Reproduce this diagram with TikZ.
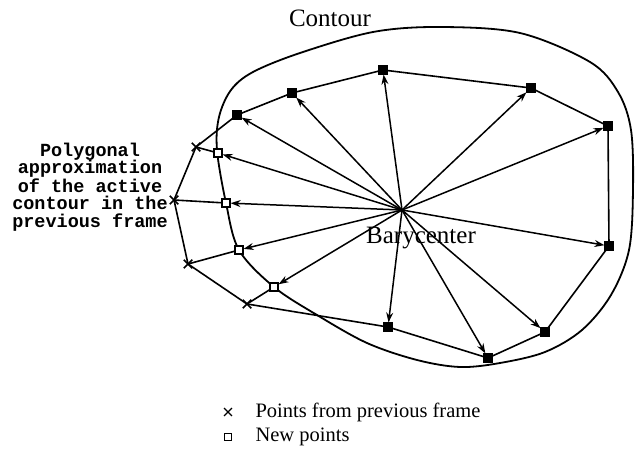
\documentclass[tikz,border=0pt]{standalone}
\usepackage{fontspec}
\setmainfont{Liberation Serif}
\setmonofont{Liberation Mono}
\usepackage{tikz}
\usetikzlibrary{shapes.misc, arrows.meta, positioning}
\tikzset{
    % Point markers
    new point/.style={
        rectangle,
        draw=black,
        fill=white,
        line width=1.6pt,
        minimum size=7.5pt,
        inner sep=0pt
    },
    same point/.style={
        new point,
        fill=black
    },
    old point/.style={
        cross out,
        draw=black,
        line width=1.5pt,
        minimum size=7pt,
        inner sep=0pt
    },
    arrow style/.style={
        -{Stealth[length=10pt,width=7pt]},
        line width=1.5pt,
        black
    },
    edge style/.style={
        line width=1.6pt,
        black
    },
    label text/.style={
        font=\fontsize{25}{28}\selectfont
    },
    legend text/.style={
        anchor=west,
        font=\fontsize{20.5}{24}\selectfont
    }
}
\begin{document}
\begin{tikzpicture}[x=1pt, y=-1pt]
        \useasboundingbox (0,0) rectangle (635,465);

        % Contour
        \draw[line width=1.8pt] plot[smooth cycle, tension=0.55] coordinates {
            (217,150) (219,117) (231,90) (253,72) (300,53) (373,32) (440,27)
            (520,33) (590,62) (618,92) (631,130) (633,190) (629,250) (611,295)
            (582,330) (545,352) (500,363) (460,367) (417,360) (367,343)
            (317,315) (274,287) (239,250) (226,203)};
        \node[label text] (contour) at (330,18) {Contour};

        % Barycenter
        \coordinate (bary) at (402,210);
        \node[label text] (barylabel) at (421,238) {Barycenter};

        % New points (squares)
        \node[same point] (n1) at (383,70) {};
        \node[same point] (n2) at (531,88) {};
        \node[same point] (n3) at (608,126) {};
        \node[same point] (n4) at (609,246) {};
        \node[same point] (n5) at (545,332) {};
        \node[same point] (n6) at (488,358) {};
        \node[same point] (n7) at (388,327) {};
        \node[new point] (n8) at (274,287) {};
        \node[new point] (n9) at (239,250) {};
        \node[new point] (n10) at (226,203) {};
        \node[new point] (n11) at (218,153) {};
        \node[same point] (n12) at (237,115) {};
        \node[same point] (n13) at (292,93) {};

        % Points from previous frame (crosses)
        \node[old point] (o8) at (247,304) {};
        \node[old point] (o9) at (188,264) {};
        \node[old point] (o10) at (174,200) {};
        \node[old point] (o11) at (196,147) {};

        % Previous polygon
        \draw[edge style] (n12) -- (n13) -- (n1) -- (n2) -- (n3) -- (n4) -- (n5)
            -- (n6) -- (n7) -- (o8.center) -- (o9.center) -- (o10.center)
            -- (o11.center) -- (n12);

        % Rays beyond the new points
        \foreach \i in {8,9,10,11}
            \draw[edge style] (n\i) -- (o\i.center);

        % Arrows from the barycenter
        \foreach \i in {1,...,13}
            \draw[arrow style] (bary) -- (n\i);

        % Left label
        \node[font=\fontsize{18.5}{17.5}\selectfont\ttfamily\bfseries, align=center] (polylabel) at (90,187) {
            Polygonal\\
            approximation\\
            of the active\\
            contour in the\\
            previous frame
        };

        % Legend
        \node[old point, line width=1.3pt, minimum size=6.5pt] (legold) at (228,412) {};
        \node[legend text] (legoldtext) at (252,412) {Points from previous frame};
        \node[new point, line width=1.3pt, minimum size=7pt] (legnew) at (228,437) {};
        \node[legend text] (legnewtext) at (252,437) {New points};
    \end{tikzpicture}
\end{document}
